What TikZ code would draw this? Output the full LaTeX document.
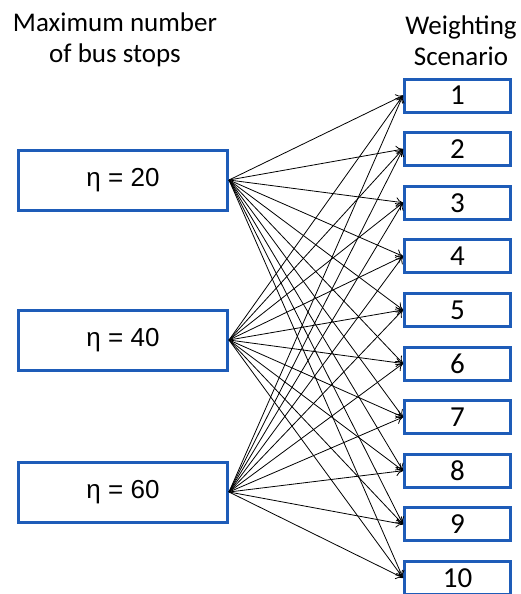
\documentclass[tikz,border=0pt]{standalone}
\usepackage{fontspec}
\setmainfont{Carlito}
\newfontfamily\etafont{Liberation Sans}
\usepackage{tikz}
\usetikzlibrary{arrows.meta}
\definecolor{boxblue}{RGB}{30,92,184}
\tikzset{
    etabox/.style={draw=boxblue, line width=3pt, fill=white, minimum width=209pt, minimum height=60pt, inner sep=0pt, font=\etafont\fontsize{26}{28}\selectfont},
    scenbox/.style={draw=boxblue, line width=3pt, fill=white, minimum width=106pt, minimum height=33pt, inner sep=0pt, font=\fontsize{29}{30}\selectfont},
    head/.style={align=center, font=\fontsize{27}{31}\selectfont},
    link/.style={-{To[length=7pt,width=9pt]}, line width=0.8pt}}

\begin{document}
\begin{tikzpicture}[x=1pt, y=-1pt]
        \useasboundingbox (0,0) rectangle (521,594);

            \node[head] (maxhead) at (115,40) {Maximum number\\of bus stops};
            \node[head] (scenhead) at (461,41) {Weighting\\Scenario};

            \node[etabox] (E20) at (123,180) {η = 20};
            \node[etabox] (E40) at (123,340) {η = 40};
            \node[etabox] (E60) at (123,492) {η = 60};

            \foreach \i in {1,...,10}
                \node[scenbox] (S\i) at (457.5,{95.5+53.6*(\i-1)}) {\i};

            % every eta connects to every scenario
            \foreach \e in {E20,E40,E60}
                \foreach \i in {1,...,10}
                    \draw[link] (\e.east) -- (S\i.west);

        \end{tikzpicture}
\end{document}
